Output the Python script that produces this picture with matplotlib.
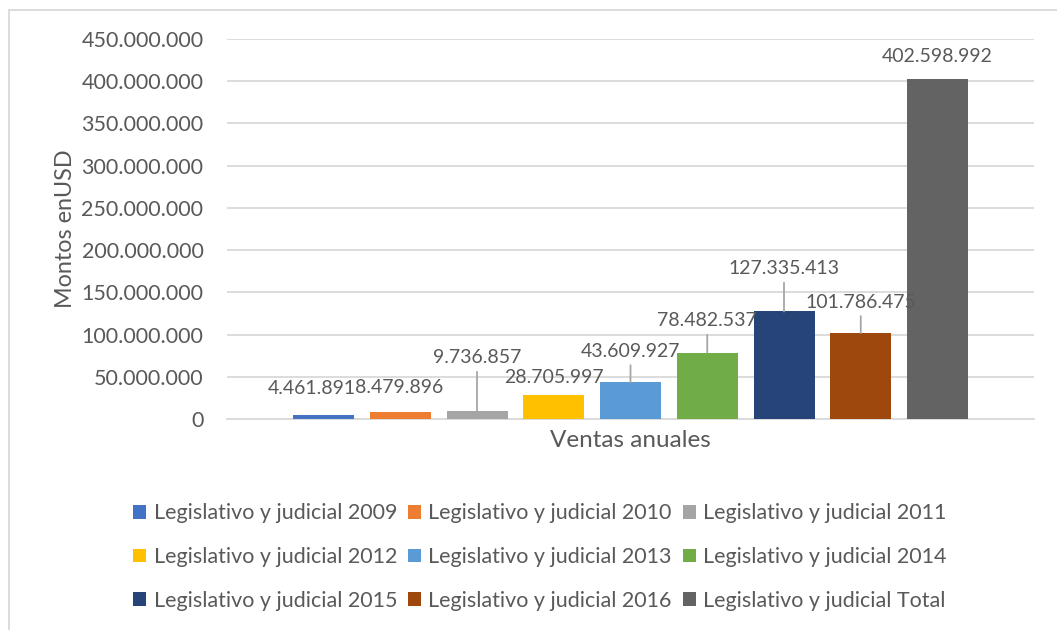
import matplotlib
matplotlib.use("Agg")
import matplotlib.pyplot as plt
from matplotlib.patches import Rectangle

# Series (one bar per series, single category)
series_names = [
    "Legislativo y judicial 2009", "Legislativo y judicial 2010",
    "Legislativo y judicial 2011", "Legislativo y judicial 2012",
    "Legislativo y judicial 2013", "Legislativo y judicial 2014",
    "Legislativo y judicial 2015", "Legislativo y judicial 2016",
    "Legislativo y judicial Total",
]
values = [4461891, 8479896, 9736857, 28705997, 43609927,
          78482537, 127335413, 101786475, 402598992]
value_labels = ["4.461.891", "8.479.896", "9.736.857", "28.705.997",
                "43.609.927", "78.482.537", "127.335.413", "101.786.475",
                "402.598.992"]
y_ticks = [0, 50000000, 100000000, 150000000, 200000000,
           250000000, 300000000, 350000000, 400000000, 450000000]
y_tick_labels = ["0", "50.000.000", "100.000.000", "150.000.000",
                 "200.000.000", "250.000.000", "300.000.000",
                 "350.000.000", "400.000.000", "450.000.000"]

colors = ["#4472C4", "#ED7D31", "#A5A5A5", "#FFC000", "#5B9BD5",
          "#70AD47", "#264478", "#9E480E", "#636363"]

# Label placement (pixel offsets from bar top) and leader-line flags
label_dx = [-12, -1, 0, 0, 0, 0, 0, 0, 0]
label_dy = [27, 24, 53, 17, 31, 32, 43, 31, 23]
leader = [False, False, True, False, True, True, True, True, False]

TEXT = "#595959"
GRID = "#D9D9D9"
FONT = "Lato"
plt.rcParams["font.family"] = [FONT, "DejaVu Sans"]

W, H = 1057, 630
fig = plt.figure(figsize=(W / 100, H / 100), dpi=100)

# chart area frame
fig.patches.append(Rectangle((9 / W, -0.1), 1.2, (H - 10) / H + 0.1,
                             transform=fig.transFigure, fill=False,
                             edgecolor=GRID, linewidth=1.3))

ax = fig.add_axes([227 / W, 1 - 419 / H, (1034 - 227) / W, (419 - 39) / H])

px = 1 / 76.75  # one pixel in x data units
xs = list(range(len(values)))
bars = ax.bar(xs, values, width=61 * px, color=colors, zorder=3)

ax.set_xlim(-96.5 * px, 8 + 96.5 * px)
ax.set_ylim(0, 450000000)
ax.set_yticks(y_ticks)
ax.set_yticklabels(y_tick_labels)
ax.set_xticks([])
ax.tick_params(axis="y", length=0, pad=17, labelsize=15.5, labelcolor=TEXT)
ax.grid(axis="y", color=GRID, linewidth=1.3, zorder=0)
for s in ["top", "right", "left"]:
    ax.spines[s].set_visible(False)
ax.spines["bottom"].set_color(GRID)
ax.spines["bottom"].set_linewidth(1.3)

ax.set_xlabel("Ventas anuales", fontsize=17.5, color=TEXT, labelpad=8)
ax.set_ylabel("Montos enUSD", fontsize=16.8, color=TEXT, labelpad=4)

for i, (v, lab) in enumerate(zip(values, value_labels)):
    kw = {}
    if leader[i]:
        kw["arrowprops"] = dict(arrowstyle="-", color="#A6A6A6", lw=1.3,
                                shrinkA=2, shrinkB=0, relpos=(0.5, 0))
    ax.annotate(lab, xy=(i, v), xytext=(label_dx[i] * 0.72, label_dy[i] * 0.72),
                textcoords="offset points", ha="center", va="center",
                fontsize=14, color=TEXT, **kw)

# legend laid out row by row (3 x 3)
order = [0, 3, 6, 1, 4, 7, 2, 5, 8]
handles = [bars[k] for k in order]
labels = [series_names[k] for k in order]
fig.legend(handles, labels, loc="center", bbox_to_anchor=(540 / W, 1 - 557 / H),
           ncol=3, frameon=False, fontsize=15.5, labelcolor=TEXT,
           handlelength=0.6, handleheight=0.6, handletextpad=0.35,
           columnspacing=0.5, labelspacing=1.1)

fig.savefig("out.png", dpi=100)
